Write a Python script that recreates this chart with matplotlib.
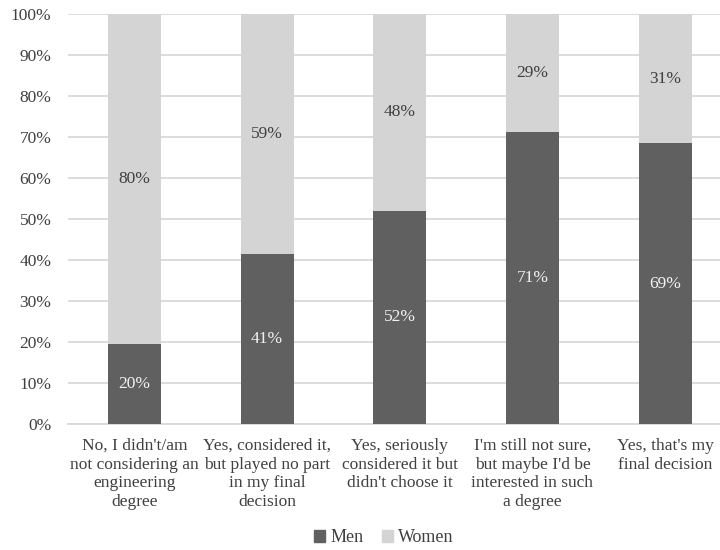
import matplotlib.pyplot as plt
from matplotlib.patches import Patch

categories = [
    "No, I didn't/am\nnot considering an\nengineering\ndegree",
    "Yes, considered it,\nbut played no part\nin my final\ndecision",
    "Yes, seriously\nconsidered it but\ndidn't choose it",
    "I'm still not sure,\nbut maybe I'd be\ninterested in such\na degree",
    "Yes, that's my\nfinal decision",
]
men = [19.5, 41.4, 52.0, 71.1, 68.5]
women = [100 - m for m in men]
men_labels = ["20%", "41%", "52%", "71%", "69%"]
women_labels = ["80%", "59%", "48%", "29%", "31%"]
yticks = list(range(0, 101, 10))

plt.rcParams["font.family"] = ["Liberation Serif", "DejaVu Serif"]

fig = plt.figure(figsize=(7.2, 5.5), dpi=100)
ax = fig.add_axes([68 / 720, 126 / 550, (731.5 - 68) / 720, 410 / 550])

x = range(len(categories))
men_col, women_col = "#606060", "#d4d4d4"
b1 = ax.bar(x, men, width=0.4, color=men_col, zorder=3)
b2 = ax.bar(x, women, width=0.4, bottom=men, color=women_col, zorder=3)
ax.bar_label(b1, labels=men_labels, label_type="center", color="#f2f2f2", fontsize=12.5)
ax.bar_label(b2, labels=women_labels, label_type="center", color="#404040", fontsize=12.5)

ax.set_xlim(-0.5, 4.5)
ax.set_ylim(0, 100)
ax.set_yticks(yticks)
ax.set_yticklabels([f"{t}%" for t in yticks])
ax.set_xticks(list(x))
ax.set_xticklabels(categories, fontsize=12.5, color="#404040", linespacing=1.22)
ax.tick_params(axis="y", length=0, labelsize=12.5, labelcolor="#404040", pad=12)
ax.tick_params(axis="x", length=0, pad=10)
ax.grid(axis="y", color="#d9d9d9", linewidth=1.3, zorder=0)
for s in ["top", "right", "left"]:
    ax.spines[s].set_visible(False)
ax.spines["bottom"].set_color("#d9d9d9")
ax.spines["bottom"].set_linewidth(1.3)

handles = [Patch(color=men_col, label="Men"), Patch(color=women_col, label="Women")]
fig.legend(handles=handles, loc="center", bbox_to_anchor=(384 / 720, 1 - 538 / 550),
           ncol=2, frameon=False, fontsize=13, handlelength=0.6, handleheight=0.6,
           handletextpad=0.3, columnspacing=1.0, labelcolor="#404040")

fig.savefig("out.png", dpi=100)
